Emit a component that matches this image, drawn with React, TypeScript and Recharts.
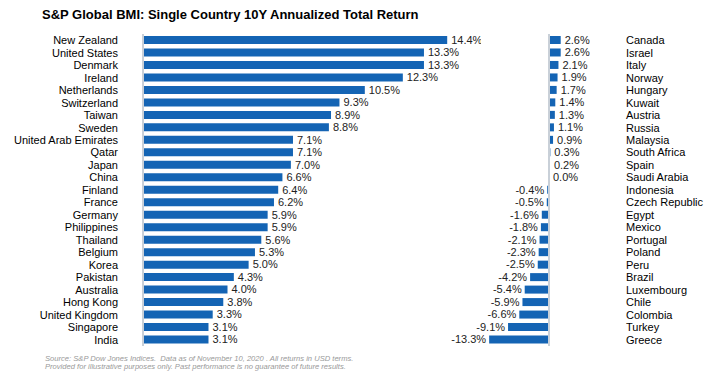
import React from 'react';
import { BarChart, Bar, XAxis, YAxis, LabelList, ReferenceLine } from 'recharts';

const leftCountries = [
  'New Zealand', 'United States', 'Denmark', 'Ireland', 'Netherlands', 'Switzerland', 'Taiwan',
  'Sweden', 'United Arab Emirates', 'Qatar', 'Japan', 'China', 'Finland', 'France', 'Germany',
  'Philippines', 'Thailand', 'Belgium', 'Korea', 'Pakistan', 'Australia', 'Hong Kong',
  'United Kingdom', 'Singapore', 'India',
];
const leftReturns = [
  14.4, 13.3, 13.3, 12.3, 10.5, 9.3, 8.9, 8.8, 7.1, 7.1, 7.0, 6.6, 6.4, 6.2, 5.9, 5.9, 5.6, 5.3,
  5.0, 4.3, 4.0, 3.8, 3.3, 3.1, 3.1,
];

const rightCountries = [
  'Canada', 'Israel', 'Italy', 'Norway', 'Hungary', 'Kuwait', 'Austria', 'Russia', 'Malaysia',
  'South Africa', 'Spain', 'Saudi Arabia', 'Indonesia', 'Czech Republic', 'Egypt', 'Mexico',
  'Portugal', 'Poland', 'Peru', 'Brazil', 'Luxembourg', 'Chile', 'Colombia', 'Turkey', 'Greece',
];
const rightReturns = [
  2.6, 2.6, 2.1, 1.9, 1.7, 1.4, 1.3, 1.1, 0.9, 0.3, 0.2, 0.0, -0.4, -0.5, -1.6, -1.8, -2.1, -2.3,
  -2.5, -4.2, -5.4, -5.9, -6.6, -9.1, -13.3,
];

const FONT = 'Arial, "Liberation Sans", sans-serif';
const BLUE = '#1464b4';

const leftData = leftCountries.map((name, i) => ({ name, value: leftReturns[i] }));
const rightData = rightCountries.map((name, i) => ({ name, value: rightReturns[i] }));

// label at the bar end, left of it for negatives
const EndLabel = (props: any) => {
  const { x, y, width, height, value } = props;
  const end = x + width;
  const neg = value < 0;
  return (
    <text
      x={neg ? end - 3 : end + 4}
      y={y + height / 2}
      dy="0.35em"
      textAnchor={neg ? 'end' : 'start'}
      fontSize={11}
      fontFamily={FONT}
      fill="#222"
    >
      {Number(value).toFixed(1) + '%'}
    </text>
  );
};

// keeps the 0.0% bar (and its label) from being dropped
const tinyZero = (value: any) => (Number(value) === 0 ? 0.01 : 0);

export default function App() {
  return (
    <div style={{ position: 'absolute', left: 0, top: 0, width: 715, height: 384, background: '#fff', fontFamily: FONT }}>
      <div style={{ position: 'absolute', left: 42, top: 7, fontSize: 13, lineHeight: '15px', fontWeight: 'bold', color: '#000', whiteSpace: 'nowrap' }}>
        S&amp;P Global BMI: Single Country 10Y Annualized Total Return
      </div>

      <div style={{ position: 'absolute', left: 0, top: 0 }}>
        <BarChart width={481} height={384} data={leftData} layout="vertical" margin={{ top: 34, bottom: 38, left: 0, right: 0 }}>
          <XAxis type="number" domain={[0, 16]} hide />
          <YAxis
            type="category"
            dataKey="name"
            width={143}
            interval={0}
            tickLine={false}
            tickSize={0}
            tickMargin={25}
            axisLine={{ stroke: '#c9d0d8', strokeWidth: 2 }}
            tick={{ fontSize: 11, fontFamily: FONT, fill: '#000' }}
          />
          <Bar dataKey="value" fill={BLUE} barSize={8} isAnimationActive={false}>
            <LabelList dataKey="value" content={EndLabel} />
          </Bar>
        </BarChart>
      </div>

      <div style={{ position: 'absolute', left: 440, top: 0 }}>
        <BarChart width={275} height={384} data={rightData} layout="vertical" margin={{ top: 34, bottom: 38, left: 10, right: 0 }}>
          <XAxis type="number" domain={[-22, 4]} hide />
          <YAxis
            type="category"
            dataKey="name"
            orientation="right"
            width={148}
            interval={0}
            tickLine={false}
            axisLine={false}
            tickSize={0}
            tickMargin={59}
            tick={{ fontSize: 11, fontFamily: FONT, fill: '#000', textAnchor: 'start' }}
          />
          <ReferenceLine x={0} stroke="#c9d0d8" strokeWidth={2} />
          <Bar dataKey="value" fill={BLUE} barSize={8} minPointSize={tinyZero} isAnimationActive={false}>
            <LabelList dataKey="value" content={EndLabel} />
          </Bar>
        </BarChart>
      </div>

      <div style={{ position: 'absolute', left: 45, top: 355, fontSize: 7.6, lineHeight: '8px', fontStyle: 'italic', color: '#999', whiteSpace: 'pre' }}>
        {'Source: S&P Dow Jones Indices.  Data as of November 10, 2020 . All returns in USD terms.\nProvided for illustrative purposes only. Past performance is no guarantee of future results.'}
      </div>
    </div>
  );
}
